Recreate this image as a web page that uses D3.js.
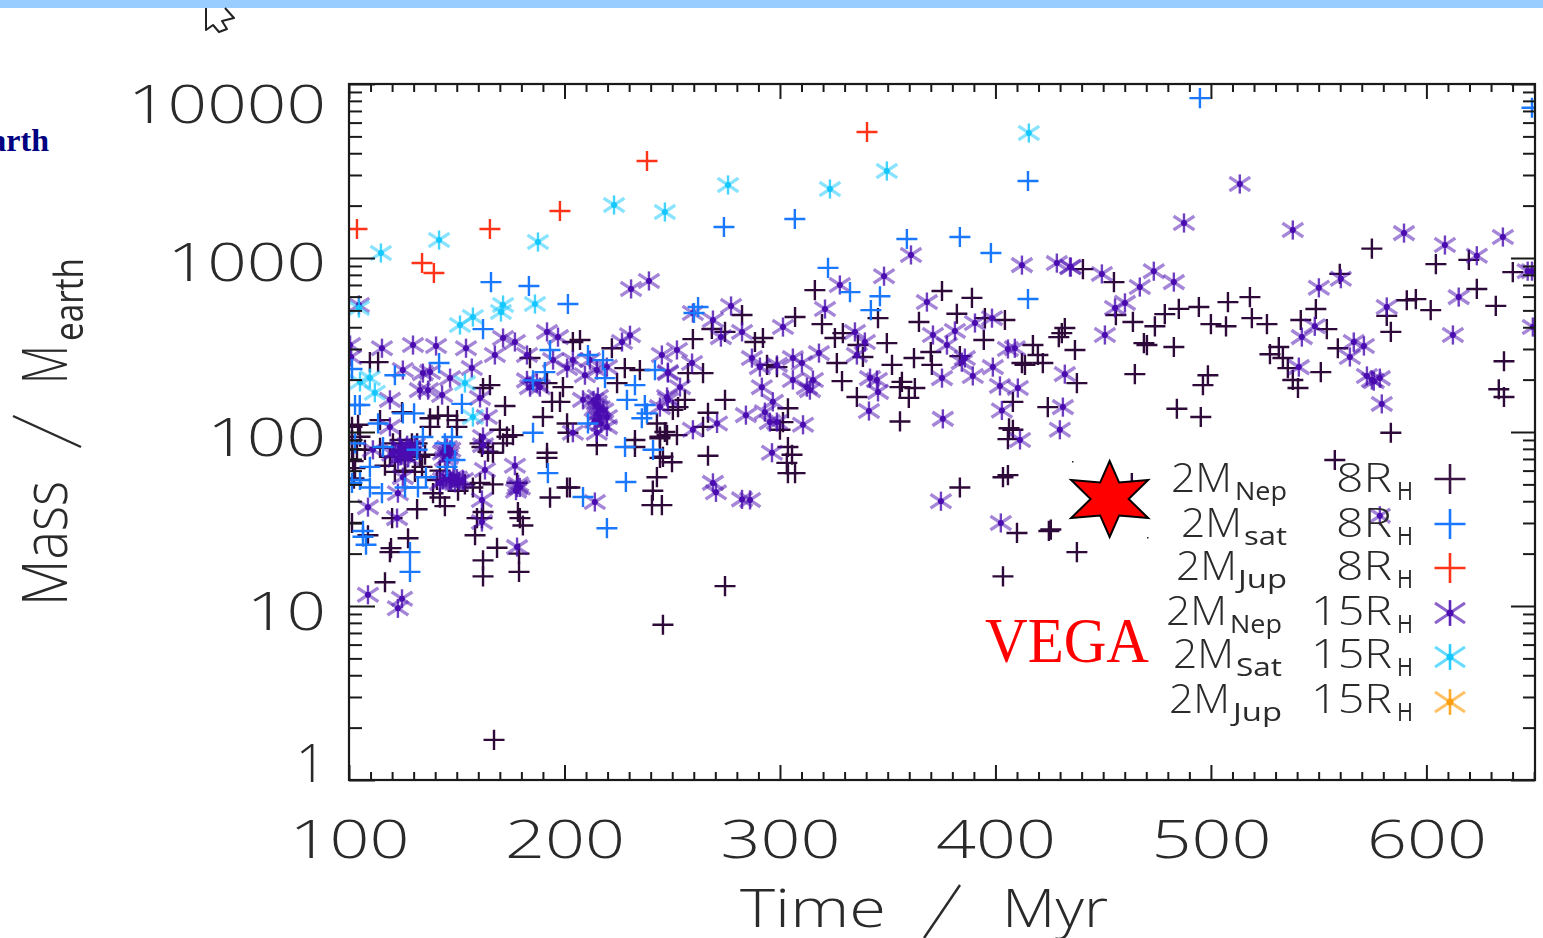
<!DOCTYPE html>
<html><head><meta charset="utf-8">
<style>
html,body{margin:0;padding:0;background:#fff;overflow:hidden}
svg{display:block}
.soft{filter:blur(.7px)}
</style>
<script src="https://cdn.jsdelivr.net/npm/d3@7"></script>
</head><body>
<svg id="c" width="1543" height="938"></svg>
<script>
// Each entry: [time in Myr, mass in Earth masses]
const nep8R = [[113.5,252],[109.7,252],[165.4,186],[162.2,179],[172.4,141],[190,122],[194.2,149],[197.9,149],[199.3,181],[191.9,191],[184,266],[207.2,338],[203.9,329],[222,303],[228,233],[235,227],[224.4,191],[201.2,112],[201.6,99],[215,84],[232.7,90],[232.7,82],[245.7,72],[246.6,100],[242.9,112],[244.3,94],[191.9,76],[191.9,71],[202.5,48],[201.2,48],[193.3,42],[241,46],[242.9,55],[240.6,38],[245.2,38],[178.4,34.7],[179.3,32],[180.7,29],[168.7,21.6],[178.9,20],[178.9,15.7],[162.2,18.3],[162.2,14.8],[158.5,25.5],[161.7,32],[162.2,34.7],[159.4,32],[173.3,94],[171.5,86],[166.8,76],[164.5,77],[170,103],[176.1,96],[157.5,48],[160.8,51],[166.8,50],[142.2,42],[144.5,37.5],[131.6,36],[139,44.5],[120,32],[127.4,24.5],[119,20.4],[119.5,21.5],[116.7,13.7],[108.8,25.5],[101.4,30],[137.6,120],[141.3,124],[145.9,124],[150.1,117],[124.6,130],[137.6,107],[150.1,107],[119,72],[132.9,72],[133.9,63],[130.6,59],[104.2,110],[101.4,107],[103.7,79],[101.9,68],[102.8,62],[102.3,54],[114.4,117],[120.4,86],[129.2,86],[131.6,86],[140.8,53],[160.8,86],[161.7,82],[178,51],[101.4,90],[101.4,79],[116.7,64],[121.3,59],[126,60],[114.4,81],[107.4,79],[105.1,94],[123.7,90],[126,69],[135.3,74],[142.2,60],[153.8,50],[150.6,46],
[316.2,654],[307,458],[282.4,470],[268.4,391],[274.5,376],[259.6,342],[292.1,347],[288.4,329],[319.5,417],[345.5,451],[325.5,347],[329.2,370],[336.2,316],[338.5,270],[349.6,324],[326.4,249],[352,243],[362.2,266],[375.2,646],[389.1,590],[382.1,478],[364.5,429],[395.1,451],[404.4,440],[394.6,338],[370,288],[370.5,243],[383.5,273],[328.8,196],[335.7,159],[356.6,194],[362.6,179],[355.7,181],[359.8,157],[355.7,115],[417.4,316],[412.3,249],[413.7,243],[419.7,277],[422,249],[436.9,296],[432.2,396],[429.4,351],[408.1,149],[424.3,139],[406.3,105],[408.1,103],[405.8,91],[405.8,56.5],[403.5,55],[383.5,48],[294,243],[298.6,236],[264.3,218],[257.3,218],[274.5,153],[266.6,129],[264.3,107],[303.7,137],[301.4,114],[300,103],[266.6,73],[303.7,82],[305.6,74],[303.2,66.5],[303.7,58],[307,58],[249.9,67],[244.3,71],[250.3,134],[255.9,153],[252.7,139],[247.6,96],[252.2,96],[244.3,92],
[274.5,13],[245.7,7.8],[167.3,1.7],[403.5,14.8],[424.8,27],[425.7,27.5],[410,26.3],[437.8,20.4],[463.3,50.9],[557.5,69],
[440.6,863],[455,727],[559.8,810],[574.7,1132],[604.4,922],[619.7,975],[640.1,830],[623.4,664],[632.2,531],[595.1,580],[590.9,572],[602,502],[581.6,465],[583.5,376],[548.7,509],[541.7,440],[553.8,390],[518.1,596],[507.9,558],[494.4,523],[485.1,510],[478.6,476],[474,405],[463.8,429],[455.9,470],[430.8,370],[500,417],[507,405],[519,451],[526,417],[531.5,308],[527.4,280],[533.4,266],[535.7,233],[538,199],[540.4,179],[551,221],[558.9,303],[468.9,324],[470.3,316],[482.8,308],[464.7,215],[498.6,212],[496.3,186],[484.2,136],[495.3,122],[437.8,191],[583.5,99],[636,255],[633.6,176],[636,159]];

const sat8R = [[165.9,727],[183.5,690],[201.6,544],[274,1507],[306.9,1675],[358.9,1286],[383.5,1321],[397.9,1068],[415.1,2770],[322.3,877],[332.5,637],[346.4,603],[342.2,502],[415.1,581],[262,523],[260.1,483],[494.9,8300],[649,7300],[162.2,390],[141.8,249],[121.3,212],[102.8,143],[152.4,145],[130.2,128],[125,128],[193.3,296],[190.9,221],[185.4,198],[218.8,204],[210.9,277],[217.9,259],[242,227],[232.7,186],[229,153],[237.3,143],[235.9,120],[238.3,128],[210.9,112],[185.4,99],[228.1,82],[241.1,79],[192.3,58],[228.5,51.6],[219.7,28],[208.6,42.3],[134.3,93.6],[147.8,93.6],[144.5,86],[131.6,79],[149.2,69],[145.5,63],[115.8,82],[113.5,112],[135.7,55],[109.7,63],[105.1,53],[109.7,48],[115.3,44.5],[101.4,51],[106.5,27],[106.5,25],[107.9,22.5],[128.3,20.4],[128.3,15.7],[132,48],[126,48],[102.8,86],[105,143],[101.4,230]];

const jup8R = [[103.7,1468],[165.4,1468],[133.9,936],[139.4,820],[197.9,1862],[238.3,3608],[340.4,5297]];

const nep15R = [[104.6,537],[115.3,303],[129.7,316],[140.4,312],[154.3,303],[171.5,347],[177,329],[167.7,277],[182.6,277],[191.9,376],[197,351],[226.7,329],[230.4,360],[100.5,316],[101,270],[125,227],[134.3,218],[137.6,221],[157,233],[146.9,204],[132.9,174],[136.7,174],[143.2,163],[119,153],[160.8,157],[164,122],[119,107],[111.1,79],[123.7,82],[128.3,81],[121.3,77],[126,74],[122.7,69],[130.6,84],[145.5,81],[143.6,76],[145.9,72],[143.6,53],[146.9,53],[150.1,54],[152.9,53],[142.2,51],[149.2,51],[125,55],[122.7,44.5],[108.8,37],[122.3,32],[161.7,40.7],[161.7,30.4],[162.2,93.6],[162.2,84],[163.1,60.5],[177,64],[178,48],[179.3,48],[178,21.8],[214.1,39.6],[108.8,11.6],[124.6,11],[122.7,9.7],[182.6,198],[187.2,191],[184,181],[188.6,181],[209.5,212],[201.2,233],[194.7,259],[203.9,259],[215,227],[211.8,259],[219.7,236],[208.6,153],[215.5,159],[216.5,137],[215.5,128],[215,147],[219.7,122],[219.7,107],[215,99],[203.9,99],[245.2,277],[248,218],[244.3,139],[248,153],
[124.5,80],[126.5,78],[129,76],[124,73],[127.5,71],[120,75],[127,84],[144.5,78],[146.5,75],[144.5,70],[147,79],[147.5,52],[151,52],[145,55],[148.5,55],[178.5,50],[177.5,46],[216,120],[217,112],[214,116],[215,140],[218,133],[213.5,152],
[360.8,1041],[348.3,786],[327.8,700],[320.9,509],[368.2,558],[412.3,910],[428.5,935],[434.6,887],[371,361],[381.2,381],[390.5,423],[398.4,451],[377.5,316],[385.8,266],[384.4,252],[398.8,236],[389.5,210],[375.2,204],[405.8,300],[409,303],[432.2,215],[402.1,184],[410.4,179],[403,133],[431.3,139],[429.9,103],[411.4,90],[375.6,119],[341.3,132],[345.5,170],[341.8,204],[345,199],[334.8,376],[339.4,329],[335.7,277],[318.1,284],[306,266],[310.2,249],[306,199],[315.3,199],[312.5,181],[313.9,174],[301.4,401],[287,266],[290.7,236],[298.6,243],[291.6,181],[296.7,149],[284.2,125],[293,130],[295.3,114],[298.6,114],[310.7,110],[270.8,112],[259.6,103],[296.3,76],[268.9,51],[270.3,45],[277.3,530],[259.6,483],[268.9,440],[272.6,351],[282.4,376],[252.2,296],[259.2,249],[248,221],[253.6,181],[247.6,159],[230.9,664],[239.2,738],[282.4,41],[286.1,40.7],[374.7,40],[402.5,30],[578.4,33],
[513.4,2662],[487.5,1589],[538,1448],[589.6,1390],[608.6,1187],[623.4,1030],[635.5,1320],[649,840],[647,840],[482.8,727],[473.5,840],[467,681],[449.4,810],[435,887],[460.1,552],[455.5,516],[450.8,361],[550.1,674],[560.3,760],[581.6,523],[615,596],[612.3,361],[548.2,405],[542.2,351],[566.3,329],[571,312],[564.5,270],[540.8,236],[572.4,210],[575.6,196],[578.4,204],[574.7,199],[579.3,145],[649.4,401]];

const sat15R = [[114.8,1068],[141.8,1268],[187.7,1236],[223,2017],[246.6,1838],[275.9,2628],[323.2,2492],[349.6,3162],[415.5,5226],[104.6,516],[171.5,537],[170.5,489],[186.3,544],[157.5,458],[151.5,412],[109.7,204],[105.1,194],[112,168],[153.8,191],[157.5,122]];

const jup15R = [];
const vegaPoint = [453, 41.2];

const xMajor = [100,200,300,400,500,600];
const xMinor = d3.range(100,651,10).filter(d=>d%100!==0);
const yMajor = [1,10,100,1000,10000];
const yMinor = [2,3,4,5,6,7,8,9,20,30,40,50,60,70,80,90,200,300,400,500,600,700,800,900,2000,3000,4000,5000,6000,7000,8000,9000];

const legendMass = ["Nep","sat","Jup","Nep","Sat","Jup"];
const legendRadius = ["8","8","8","15","15","15"];
const legendColor = ["#3a1544","#1a78ff","#ff3318","#4a0cb0","#14c8ff","#ff9f10"];
const legendMark = ["plus","plus","plus","star","star","star"];

const svg = d3.select("#c");
const x = d3.scaleLinear().domain([100,650.4]).range([349,1535]);
const y = d3.scaleLog().domain([1,10000]).range([780,84]);
const sans = "'Open Sans','DejaVu Sans',sans-serif";
const ink = "#2a2a2a";

// page furniture
svg.append("rect").attr("width",1543).attr("height",8).attr("fill","#99ccff");
svg.append("path").attr("d","M206,8 L206,30 L213,25 L219,32 L227,29 L222,21 L234,18 L225,8")
  .attr("fill","#fff").attr("stroke","#222").attr("stroke-width",2).attr("stroke-linejoin","round").attr("class","soft");
svg.append("text").text("Earth").attr("x",49).attr("y",151).attr("text-anchor","end")
  .attr("font-family","'Liberation Serif',serif").attr("font-weight","bold").attr("font-size",32).attr("fill","#000080");

const plot = svg.append("g").attr("class","soft");

// markers
const plusType = {draw(ctx,s){ctx.moveTo(-s,0);ctx.lineTo(s,0);ctx.moveTo(0,-s*.96);ctx.lineTo(0,s*.96);}};
const starVert = {draw(ctx,s){ctx.moveTo(0,-s*.92);ctx.lineTo(0,s*.92);}};
const starDiag = {draw(ctx,s){ctx.moveTo(-s,-s*.66);ctx.lineTo(s,s*.66);ctx.moveTo(-s,s*.66);ctx.lineTo(s,-s*.66);}};
const shape = (t,s)=>d3.symbol().type(t).size(s)();

function plusLayer(g,data,color,s=10.5){
  g.append("g").selectAll("path").data(data).join("path")
   .attr("transform",d=>`translate(${x(d[0])},${y(d[1])})`)
   .attr("d",shape(plusType,s)).attr("fill","none").attr("stroke",color).attr("stroke-width",2.4);
}
function starLayer(g,data,color,s=10.4){
  const m=g.append("g").selectAll("g").data(data).join("g")
   .attr("transform",d=>`translate(${x(d[0])},${y(d[1])})`);
  m.append("path").attr("d",shape(starDiag,s)).attr("fill","none").attr("stroke",color).attr("stroke-width",3.4).attr("stroke-opacity",.5);
  m.append("path").attr("d",shape(starVert,s)).attr("fill","none").attr("stroke",color).attr("stroke-width",2.4).attr("stroke-opacity",.8);
  m.append("circle").attr("r",3).attr("fill",color);
}
const clipId="plotClip";
svg.append("clipPath").attr("id",clipId).append("rect").attr("x",349).attr("y",84).attr("width",1186).attr("height",696);
const marks = plot.append("g").attr("clip-path",`url(#${clipId})`);
plusLayer(marks,nep8R,"#2e0a3a");
starLayer(marks,nep15R,"#4a0cb0");
starLayer(marks,sat15R,"#14c8ff");
starLayer(marks,jup15R,"#ff9f10");
plusLayer(marks,sat8R,"#1a78ff");
plusLayer(marks,jup8R,"#ff3318");

// axes
const axes = plot.append("g");
function put(axis,tx,ty){const g=axes.append("g").attr("transform",`translate(${tx},${ty})`).call(axis);
  g.select(".domain").remove();
  g.selectAll("line").attr("stroke","#1a1a1a").attr("stroke-width",2);return g;}
put(d3.axisBottom(x).tickValues(xMinor).tickSize(-8).tickFormat(""),0,780);
put(d3.axisTop(x).tickValues(xMinor).tickSize(-8).tickFormat(""),0,84);
put(d3.axisTop(x).tickValues(xMajor).tickSize(-15).tickFormat(""),0,84);
put(d3.axisLeft(y).tickValues(yMinor).tickSize(-13).tickFormat(""),349,0);
put(d3.axisRight(y).tickValues(yMinor).tickSize(-12).tickFormat(""),1535,0);
put(d3.axisRight(y).tickValues(yMajor).tickSize(-24).tickFormat(""),1535,0);
axes.append("rect").attr("x",349).attr("y",84).attr("width",1186).attr("height",696)
  .attr("fill","none").attr("stroke","#1a1a1a").attr("stroke-width",2.2);

const xg = put(d3.axisBottom(x).tickValues(xMajor).tickSize(-15).tickPadding(40).tickFormat(d3.format("d")),0,780);
xg.selectAll("text").attr("font-family",sans).attr("font-weight",300).attr("font-size",53).attr("fill",ink)
  .attr("textLength",120).attr("lengthAdjust","spacingAndGlyphs");
const yg = put(d3.axisLeft(y).tickValues(yMajor).tickSize(-26).tickPadding(23).tickFormat(d3.format("d")),349,0);
const yShift = {1:-18,10:4,100:4,1000:3,10000:19};
yg.selectAll("text").attr("font-family",sans).attr("font-weight",300).attr("font-size",53).attr("fill",ink)
  .attr("dy",null).attr("y",d=>yShift[d]+19)
  .each(function(d){const n=String(d).length; if(n>1){d3.select(this).attr("textLength",n*39.6).attr("lengthAdjust","spacingAndGlyphs");}});

// axis titles
function label(g,str,px,py,size,len,weight){
  const t=g.append("text").text(str).attr("x",px).attr("y",py).attr("font-family",sans).attr("font-weight",weight||300)
   .attr("font-size",size).attr("fill",ink);
  if(len) t.attr("textLength",len).attr("lengthAdjust","spacingAndGlyphs");
  return t;
}
label(plot,"Time",740,927,53,146);
label(plot,"Myr",1002,927,53,106);
plot.append("line").attr("x1",924).attr("y1",938).attr("x2",960).attr("y2",885).attr("stroke",ink).attr("stroke-width",2.4);
const yt = plot.append("g").attr("transform","translate(67,606) rotate(-90)");
label(yt,"Mass",0,0,63,125);
label(yt,"M",222,0,63,39);
label(yt,"earth",265,16,41,83,400);
plot.append("line").attr("x1",13).attr("y1",416).attr("x2",81).attr("y2",447).attr("stroke",ink).attr("stroke-width",2.4);

// Vega marker and name
const vx=x(vegaPoint[0]), vy=y(vegaPoint[1]);
const hexPts = d3.range(12).map(i=>{
  const a=i*Math.PI/6, R=i%2?19:38; const k=i%2?1:1.17;
  return [vx+R*k*Math.sin(a), vy-R*Math.cos(a)];
});
svg.append("path").attr("d",d3.line()(hexPts)+"Z").attr("fill","#ff0000").attr("stroke","#000").attr("stroke-width",2).attr("stroke-linejoin","miter");
svg.append("rect").attr("x",1072).attr("y",461).attr("width",1.5).attr("height",1.5).attr("fill","#222");
svg.append("rect").attr("x",1147).attr("y",537).attr("width",1.5).attr("height",1.5).attr("fill","#222");
svg.append("text").text("VEGA").attr("x",985).attr("y",662).attr("font-family","'Liberation Serif',serif")
  .attr("font-size",63).attr("fill","#ff0000").attr("textLength",164).attr("lengthAdjust","spacingAndGlyphs");

// legend
const lg = plot.append("g");
const rowBase=[492,537,580,625,668,713];
const massX=[1171,1181,1176,1166,1173,1169];
const subX=[1235,1244,1238,1230,1236,1233];
const subW=[52,43,49,52,46,49];
const markY=[479,524,568,613,657,702];
legendMass.forEach((m,i)=>{
  label(lg,"2M",massX[i],rowBase[i],40,61);
  label(lg,m,subX[i],rowBase[i]+8,25,subW[i],400);
  const wide=legendRadius[i].length>1;
  label(lg,legendRadius[i]+"R",wide?1311:1336,rowBase[i],40,wide?81:56);
  label(lg,"H",1397,rowBase[i]+8,25,16,400);
  const g=lg.append("g").attr("transform",`translate(1450,${markY[i]})`);
  if(legendMark[i]==="plus"){
    g.append("path").attr("d",shape(plusType,15.5)).attr("fill","none").attr("stroke",legendColor[i]).attr("stroke-width",2.6);
  } else {
    g.append("path").attr("d",shape(starDiag,15)).attr("fill","none").attr("stroke",legendColor[i]).attr("stroke-width",3).attr("stroke-opacity",.65);
    g.append("path").attr("d",shape(starVert,14)).attr("fill","none").attr("stroke",legendColor[i]).attr("stroke-width",2.6).attr("stroke-opacity",.9);
    g.append("circle").attr("r",3.5).attr("fill",legendColor[i]);
  }
});
</script>
</body></html>
